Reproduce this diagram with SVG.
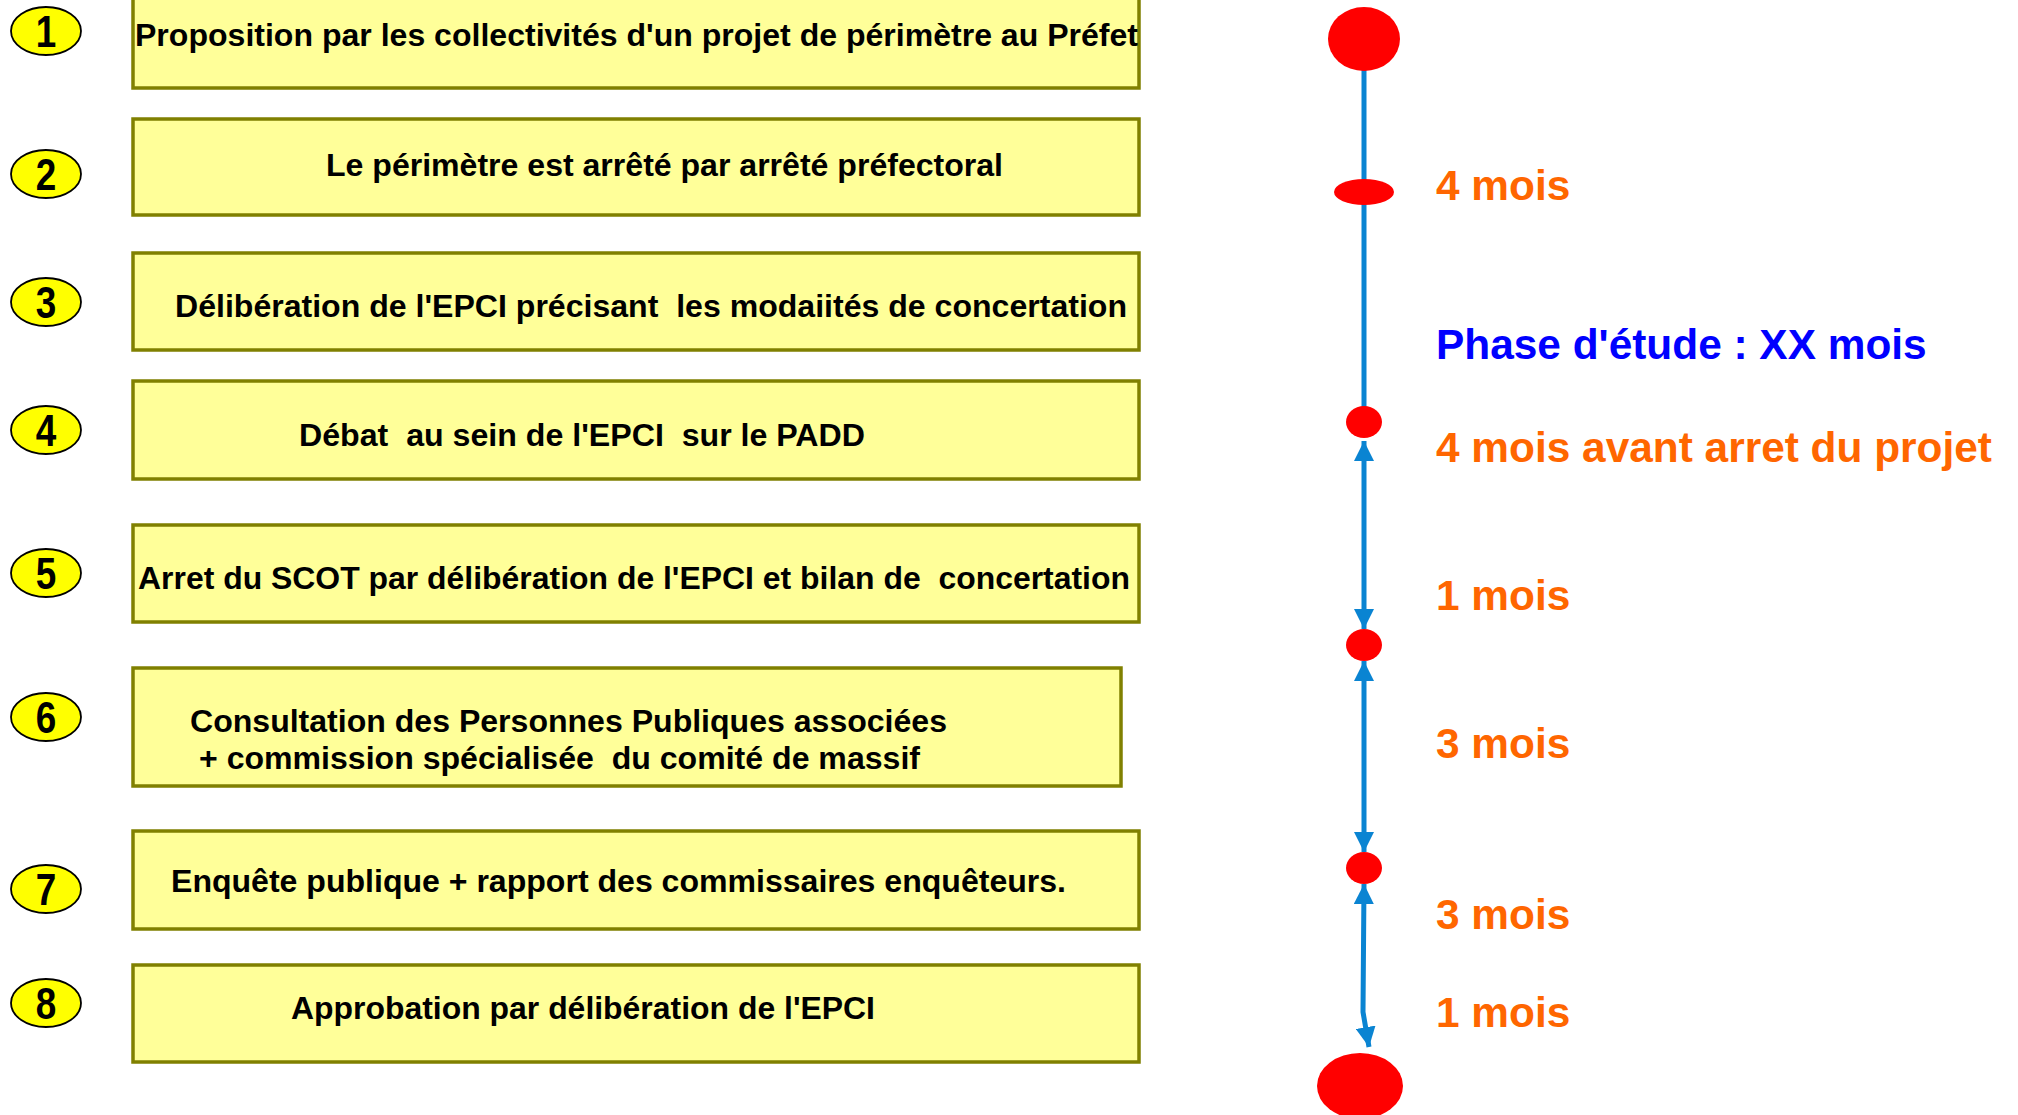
<svg xmlns="http://www.w3.org/2000/svg" width="2018" height="1115" viewBox="0 0 2018 1115">
<defs>
<style>
.box{fill:#FFFF99;stroke:#808000;stroke-width:3.5}
.bt{font-family:"Liberation Sans",Arial,sans-serif;font-weight:bold;font-size:31px;fill:#000;white-space:pre}
.num{fill:#FFFF00;stroke:#000;stroke-width:1.8}
.nt{font-family:"Liberation Sans",Arial,sans-serif;font-weight:bold;font-size:45px;fill:#000;text-anchor:middle}
.dot{fill:#FF0000}
.tl{fill:none;stroke:#0A84D2;stroke-width:5}
.lo{font-family:"Liberation Sans",Arial,sans-serif;font-weight:bold;font-size:42.4px;fill:#FF6600}
.lb{font-family:"Liberation Sans",Arial,sans-serif;font-weight:bold;font-size:42.4px;fill:#0000FF}
</style>
<marker id="ah" viewBox="0 0 10 10" refX="10" refY="5" markerUnits="userSpaceOnUse" markerWidth="20" markerHeight="20" orient="auto-start-reverse">
<path d="M0,0 L10,5 L0,10 z" fill="#0A84D2"/>
</marker>
</defs>
<rect width="2018" height="1115" fill="#FFFFFF"/>

<g id="connectors">
<line class="tl" x1="1364" y1="60" x2="1364" y2="410"/>
<line class="tl" x1="1364" y1="441" x2="1364" y2="629" marker-start="url(#ah)" marker-end="url(#ah)"/>
<line class="tl" x1="1364" y1="661" x2="1364" y2="852" marker-start="url(#ah)" marker-end="url(#ah)"/>
<path class="tl" d="M1364,884 L1363,1012 L1369,1047" marker-start="url(#ah)" marker-end="url(#ah)"/>
</g>

<g id="timeline-dots">
<ellipse id="dot-start" class="dot" cx="1364" cy="39" rx="36" ry="32"/>
<ellipse id="dot-2" class="dot" cx="1364" cy="192" rx="30" ry="13"/>
<ellipse id="dot-3" class="dot" cx="1364" cy="422" rx="18" ry="16"/>
<ellipse id="dot-4" class="dot" cx="1364" cy="645" rx="18" ry="16"/>
<ellipse id="dot-5" class="dot" cx="1364" cy="868" rx="18" ry="16"/>
<ellipse id="dot-end" class="dot" cx="1360" cy="1086" rx="43" ry="33"/>
</g>

<g id="timeline-labels">
<text class="lo" x="1436" y="200">4 mois</text>
<text class="lb" x="1436" y="359">Phase d'étude : XX mois</text>
<text class="lo" x="1436" y="462">4 mois avant arret du projet</text>
<text class="lo" x="1436" y="610">1 mois</text>
<text class="lo" x="1436" y="758">3 mois</text>
<text class="lo" x="1436" y="929">3 mois</text>
<text class="lo" x="1436" y="1027">1 mois</text>
</g>

<g id="step1">
<ellipse class="num" cx="46" cy="31" rx="35" ry="24"/>
<text class="nt" transform="translate(46,47) scale(0.82,1)">1</text>
<rect class="box" x="133" y="-4" width="1006" height="92"/>
<text class="bt" x="135" y="46" textLength="1003" lengthAdjust="spacingAndGlyphs">Proposition par les collectivités d'un projet de périmètre au Préfet</text>
</g>
<g id="step2">
<ellipse class="num" cx="46" cy="174" rx="35" ry="24"/>
<text class="nt" transform="translate(46,190) scale(0.82,1)">2</text>
<rect class="box" x="133" y="119" width="1006" height="96"/>
<text class="bt" x="326" y="176" textLength="677" lengthAdjust="spacingAndGlyphs">Le périmètre est arrêté par arrêté préfectoral</text>
</g>
<g id="step3">
<ellipse class="num" cx="46" cy="302" rx="35" ry="24"/>
<text class="nt" transform="translate(46,318) scale(0.82,1)">3</text>
<rect class="box" x="133" y="253" width="1006" height="97"/>
<text class="bt" x="175" y="317" textLength="952" lengthAdjust="spacingAndGlyphs">Délibération de l'EPCI précisant  les modaiités de concertation</text>
</g>
<g id="step4">
<ellipse class="num" cx="46" cy="430" rx="35" ry="24"/>
<text class="nt" transform="translate(46,446) scale(0.82,1)">4</text>
<rect class="box" x="133" y="381" width="1006" height="98"/>
<text class="bt" x="299" y="446" textLength="566" lengthAdjust="spacingAndGlyphs">Débat  au sein de l'EPCI  sur le PADD</text>
</g>
<g id="step5">
<ellipse class="num" cx="46" cy="573" rx="35" ry="24"/>
<text class="nt" transform="translate(46,589) scale(0.82,1)">5</text>
<rect class="box" x="133" y="525" width="1006" height="97"/>
<text class="bt" x="138" y="589" textLength="992" lengthAdjust="spacingAndGlyphs">Arret du SCOT par délibération de l'EPCI et bilan de  concertation</text>
</g>
<g id="step6">
<ellipse class="num" cx="46" cy="717" rx="35" ry="24"/>
<text class="nt" transform="translate(46,733) scale(0.82,1)">6</text>
<rect class="box" x="133" y="668" width="988" height="118"/>
<text class="bt" x="190" y="732" textLength="757" lengthAdjust="spacingAndGlyphs">Consultation des Personnes Publiques associées</text>
<text class="bt" x="199" y="769" textLength="721" lengthAdjust="spacingAndGlyphs">+ commission spécialisée  du comité de massif</text>
</g>
<g id="step7">
<ellipse class="num" cx="46" cy="889" rx="35" ry="24"/>
<text class="nt" transform="translate(46,905) scale(0.82,1)">7</text>
<rect class="box" x="133" y="831" width="1006" height="98"/>
<text class="bt" x="171" y="892" textLength="895" lengthAdjust="spacingAndGlyphs">Enquête publique + rapport des commissaires enquêteurs.</text>
</g>
<g id="step8">
<ellipse class="num" cx="46" cy="1003" rx="35" ry="24"/>
<text class="nt" transform="translate(46,1019) scale(0.82,1)">8</text>
<rect class="box" x="133" y="965" width="1006" height="97"/>
<text class="bt" x="291" y="1019" textLength="584" lengthAdjust="spacingAndGlyphs">Approbation par délibération de l'EPCI</text>
</g>
</svg>
